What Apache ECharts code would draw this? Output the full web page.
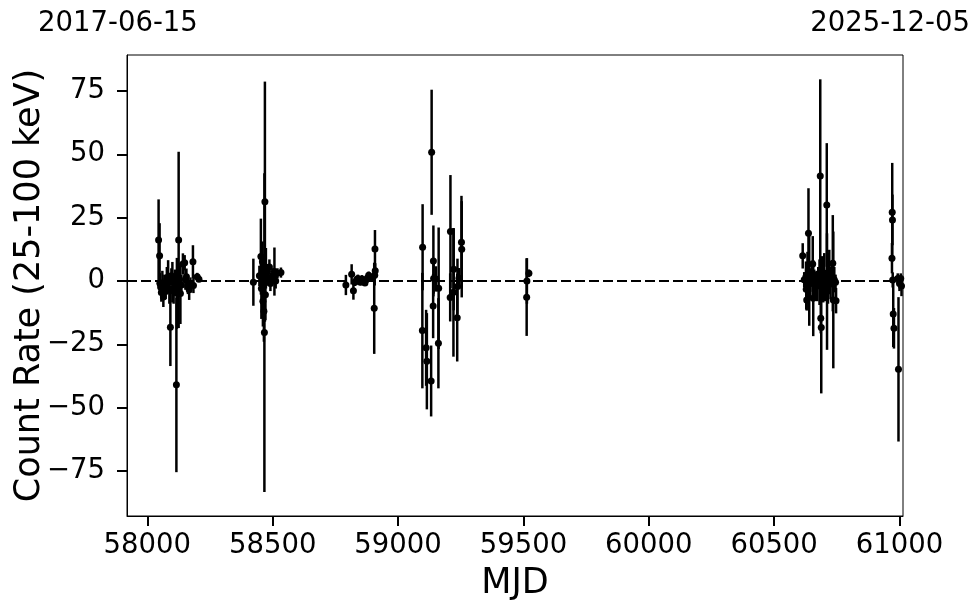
<!DOCTYPE html>
<html><head><meta charset="utf-8">
<script src="https://cdn.jsdelivr.net/npm/echarts@6/dist/echarts.min.js"></script>
<style>html,body{margin:0;padding:0;background:#fff}#c{width:980px;height:613px}</style>
</head><body><div id="c"></div>
<script>
// Observation dates (MJD)
const mjd = [
  58045,58049,58050,58053,58056,58060,58064,58068,58073,58078,58083,58088,58092,58096,58100,58105,58110,58116,58118,58125,58127,58132,58136,58142,58149,58152,58156,58162,58167,58172,58182,58184,58199,58206,
  58423,58447,58453,58455,58459,58461,58463,58465,58467,58469,58471,58473,58475,58479,58483,58487,58491,58495,58500,58507,58512,58519,58533,
  58792,58815,58822,58828,58835,58840,58845,58850,58856,58862,58868,58873,58878,58883,58888,58905,58907,58908,58909,
  59097,59098,59112,59115,59132,59134,59140,59141,59142,59151,59161,59162,59208,59209,59221,59222,59236,59237,59243,59253,59254,
  59513,59514,59522,
  60614,60620,60627,60628,60630,60633,60637,60640,60645,60650,60654,60656,60660,60663,60667,60672,60676,60681,60684,60686,60688,60692,60696,60700,60704,60710,60711,60715,60720,60725,60730,60734,60736,60740,60745,60747,
  60970,60971,60972,60973,60975,60978,60993,60996,61000,61005,61008
];
// Count rate (25-100 keV)
const rate = [
  16.2,9.9,-0.9,-2.4,-4.6,-1,-6.3,-1.5,-4.2,0.5,1.7,-3,-18.3,2,-0.5,-4,0.5,-41,-4.9,16.2,1,-5,-1.6,6.7,7.2,0.5,1.7,-2.2,-3.5,-1.6,7.6,-1.8,1.7,0.7,
  -0.5,2,9.6,-3,7.6,-8,1,-12,-20.4,31.3,-5.5,5,2,3.7,0.5,5.5,-1,1,2,3.7,0,3,3.3,
  -1.6,2.6,-3.9,-0.5,0.5,1,0.2,-0.5,0.8,0,-0.8,0.5,1.2,2.2,1,-10.8,2.2,12.6,4,
  -19.6,13.3,-26.4,-31.7,-39.5,50.8,-9.9,7.9,1,0.8,-24.6,-2.9,-6.5,19.5,-4.5,4.6,-14.5,-2.2,1.1,15.3,12.5,
  -6.4,0,3,
  9.9,0.5,1.7,-3.3,-7.5,2.5,18.8,0.3,-1,3,6.7,-6.8,0.5,-1.5,0.8,-2,1.5,-0.5,41.4,-14.7,-18.4,0.8,-1.5,3,-3,30,-4.2,1,4.3,-1.2,2,7,-7.5,0.5,-0.5,-7.8,
  9,27.1,24.1,0.4,-13.1,-18.7,1,-34.9,-1,1,-2
];
// 1-sigma errors
const rateErr = [
  16,12.9,4,3,3.6,5,4,4,3,5,6.5,6,15.3,3,8,5,4,34.5,14,34.8,5,12,4,4.2,3,4,3.2,3,4,3,6.5,3,1.5,1,
  9.3,4,15,12,8,10,6,12,62.9,47.4,10,8,4,3,2,3,3,2,3,9.5,3,2,2,
  4,4,3.5,1.5,1.5,1.5,1.5,1.2,1.5,1.2,1.2,1.5,1.5,1.5,1.2,18,4,7.5,3,
  22.8,17,15,19,14,24.7,12.7,14,6,5,17.8,24,9.5,22.3,25.4,16.2,17.3,11,4,18.3,19,
  15.3,9,1.5,
  5,3,6,8,4.2,9,17.8,18,6,5,11,15,4,5,3,6,4,9,38.2,6,26,9,7,8,5,24.4,23,10,8,6,4,19,27,5,3,5,
  6,19.5,10,3,13,8,2,28.5,3,2,4
];
const xTicks = [58000,58500,59000,59500,60000,60500,61000];
const yTicks = [-75,-50,-25,0,25,50,75];
const startDate = '2017-06-15';
const endDate = '2025-12-05';

const FONT = 'DejaVu Sans';
const pts = mjd.map((m,i)=>[m, rate[i], rateErr[i]]);
const chart = echarts.init(document.getElementById('c'), null, {renderer:'canvas'});
const fmt = v => String(v).replace('-', '\u2212');
chart.setOption({
  animation:false,
  backgroundColor:'#fff',
  grid:{left:127,right:77,top:55,bottom:97,containLabel:false,outerBoundsMode:'none',show:true,borderColor:'#000',borderWidth:1,backgroundColor:'transparent'},
  xAxis:{type:'value',min:57919,max:61014,
    splitLine:{show:false},
    axisLine:{show:true,onZero:false,lineStyle:{color:'#000',width:1}},
    axisTick:{show:true,customValues:xTicks,length:10,lineStyle:{color:'#000',width:2}},
    axisLabel:{customValues:xTicks,color:'#000',fontSize:27.5,fontFamily:FONT,margin:16,formatter:fmt},
    name:'MJD',nameLocation:'middle',nameGap:50,nameMoveOverlap:false,nameTextStyle:{color:'#000',fontSize:35,fontFamily:FONT}
  },
  yAxis:{type:'value',min:-92.8,max:89.2,
    splitLine:{show:false},
    axisLine:{show:true,onZero:false,lineStyle:{color:'#000',width:1}},
    axisTick:{show:true,customValues:yTicks,length:10,lineStyle:{color:'#000',width:2}},
    axisLabel:{customValues:yTicks,color:'#000',fontSize:27.5,fontFamily:FONT,margin:22,formatter:fmt},
    name:'Count Rate (25-100 keV)',nameLocation:'middle',nameGap:80,nameMoveOverlap:false,nameTextStyle:{color:'#000',fontSize:35,fontFamily:FONT}
  },
  graphic:[
    {type:'text',left:38,top:10,style:{text:startDate,fontSize:27.5,fontFamily:FONT,fill:'#000'}},
    {type:'text',right:10,top:10,style:{text:endDate,fontSize:27.5,fontFamily:FONT,fill:'#000'}}
  ],
  series:[
    {type:'custom',data:pts,clip:true,
      renderItem:(params,api)=>{
        const x=api.value(0),y=api.value(1),e=api.value(2);
        const a=api.coord([x,y+e]),b=api.coord([x,y-e]);
        return {type:'line',shape:{x1:a[0],y1:a[1],x2:b[0],y2:b[1]},style:{stroke:'#000',lineWidth:2.5}};
      },
      encode:{x:0,y:1},z:2,
      markLine:{silent:true,symbol:['none','none'],label:{show:false},
        lineStyle:{color:'#000',type:[10,4],width:2},
        data:[{yAxis:0}]}
    },
    {type:'scatter',data:pts.map(p=>[p[0],p[1]]),symbol:'circle',symbolSize:7,
      itemStyle:{color:'#000',opacity:1},z:3}
  ]
});
</script></body></html>
